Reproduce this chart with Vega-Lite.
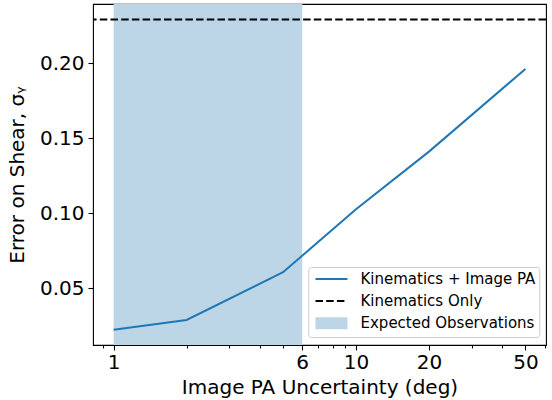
{
  "$schema": "https://vega.github.io/schema/vega-lite/v6.json",
  "autosize": "none",
  "width": 453,
  "height": 341,
  "padding": {"left": 93, "top": 4, "right": 6, "bottom": 55},
  "background": "white",
  "config": {
    "font": "DejaVu Sans",
    "view": {"stroke": "black", "strokeWidth": 1.1},
    "axis": {
      "grid": false,
      "domain": false,
      "tickColor": "black",
      "tickWidth": 1.1,
      "labelColor": "black",
      "titleColor": "black",
      "labelFont": "DejaVu Sans",
      "titleFont": "DejaVu Sans",
      "labelFontSize": 20,
      "titleFontSize": 20,
      "titleFontWeight": "normal"
    },
    "legend": {
      "orient": "none",
      "legendX": 221,
      "padding": 0,
      "labelFont": "DejaVu Sans",
      "labelFontSize": 15,
      "labelColor": "black",
      "labelLimit": 0,
      "labelOffset": 31.5,
      "symbolSize": 144,
      "symbolStrokeWidth": 2,
      "symbolOpacity": 1
    }
  },
  "datasets": {
    "curve": [
      {"series": "Kinematics + Image PA", "pa_deg": 1, "sigma": 0.0224},
      {"series": "Kinematics + Image PA", "pa_deg": 2, "sigma": 0.0289},
      {"series": "Kinematics + Image PA", "pa_deg": 5, "sigma": 0.0607},
      {"series": "Kinematics + Image PA", "pa_deg": 10, "sigma": 0.1027},
      {"series": "Kinematics + Image PA", "pa_deg": 20, "sigma": 0.1411},
      {"series": "Kinematics + Image PA", "pa_deg": 50, "sigma": 0.1962}
    ],
    "baseline": [
      {"series": "Kinematics Only", "sigma": 0.2291}
    ],
    "band": [
      {"series": "Expected Observations", "start": 1, "end": 6, "frame": 1}
    ]
  },
  "resolve": {"scale": {"color": "independent"}, "legend": {"color": "independent"}},
  "layer": [
    {
      "data": {"name": "band"},
      "mark": {"type": "rect", "opacity": 1},
      "encoding": {
        "x": {"field": "start", "type": "quantitative", "title": "Image PA Uncertainty (deg)"},
        "x2": {"field": "end"},
        "color": {
          "field": "series",
          "type": "nominal",
          "scale": {"range": ["#bcd6e8"]},
          "legend": {
            "title": null,
            "legendY": 311.8,
            "symbolType": "M-1,-1H4.33V1H-1Z"
          }
        },
        "strokeWidth": {
          "field": "frame",
          "type": "quantitative",
          "scale": {"domain": [0, 2], "range": [0, 2]},
          "legend": {
            "title": null,
            "values": [1],
            "labelExpr": "''",
            "labelFontSize": 1,
            "labelOffset": 0,
            "legendX": 329.8,
            "legendY": 297,
            "symbolSize": 4,
            "symbolType": "M-112.5,-35H112.5A3,3 0 0 1 115.5,-32V32A3,3 0 0 1 112.5,35H-112.5A3,3 0 0 1 -115.5,32V-32A3,3 0 0 1 -112.5,-35Z",
            "symbolFillColor": "transparent",
            "symbolStrokeColor": "#cccccc",
            "symbolStrokeWidth": 1
          }
        }
      }
    },
    {
      "data": {"name": "baseline"},
      "mark": {"type": "rule", "strokeDash": [7.5, 3.2], "strokeWidth": 2},
      "encoding": {
        "y": {"field": "sigma", "type": "quantitative"},
        "color": {
          "field": "series",
          "type": "nominal",
          "scale": {"range": ["black"]},
          "legend": {
            "title": null,
            "legendY": 289.5,
            "symbolType": "M-1,0H4.33",
            "symbolDash": [7.5, 3.2]
          }
        }
      }
    },
    {
      "data": {"name": "curve"},
      "mark": {"type": "line", "strokeWidth": 2},
      "encoding": {
        "x": {
          "field": "pa_deg",
          "type": "quantitative",
          "title": "Image PA Uncertainty (deg)",
          "scale": {"type": "log", "domain": [0.822, 60.8], "nice": false},
          "axis": {
            "values": [0.9, 1, 2, 3, 4, 5, 6, 7, 8, 9, 10, 20, 30, 40, 50, 60],
            "labelExpr": "indexof([1, 6, 10, 20, 50], datum.value) >= 0 ? datum.value + '' : ''",
            "tickSize": {"condition": {"test": "indexof([1, 6, 10, 20, 50], datum.value) >= 0", "value": 5}, "value": 3},
            "labelOverlap": false,
            "labelFlush": false,
            "labelBound": false,
            "labelPadding": 2,
            "titlePadding": 5
          }
        },
        "y": {
          "field": "sigma",
          "type": "quantitative",
          "title": "Error on Shear, σᵧ",
          "scale": {"domain": [0.0122, 0.2395], "nice": false, "zero": false},
          "axis": {
            "values": [0.05, 0.1, 0.15, 0.2],
            "format": ".2f",
            "tickSize": 5,
            "labelPadding": 4,
            "titlePadding": 12
          }
        },
        "color": {
          "field": "series",
          "type": "nominal",
          "scale": {"range": ["#1f77b4"]},
          "legend": {
            "title": null,
            "legendY": 267.5,
            "symbolType": "M-1,0H4.33"
          }
        }
      }
    }
  ]
}
